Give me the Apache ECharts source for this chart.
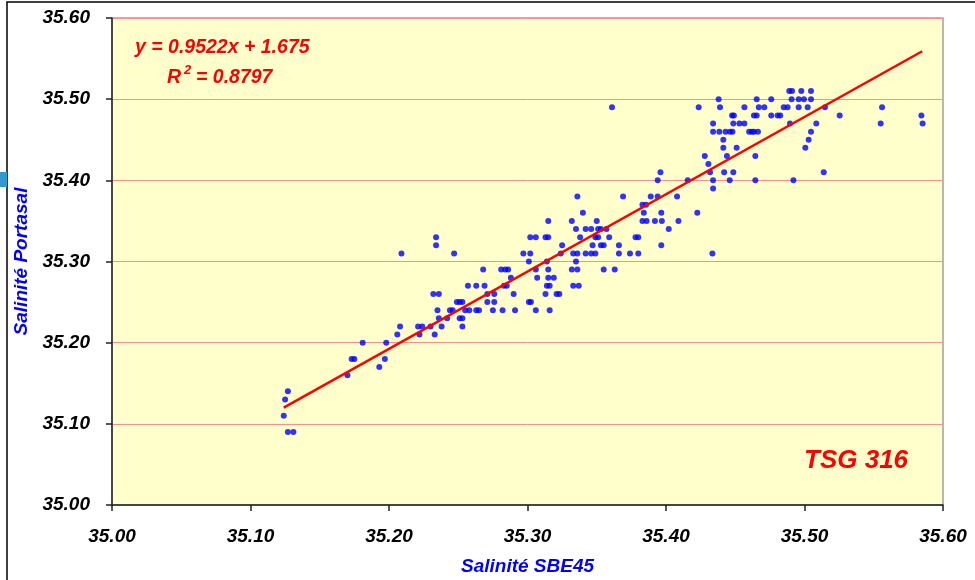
<!DOCTYPE html>
<html>
<head>
<meta charset="utf-8">
<script src="https://cdn.jsdelivr.net/npm/echarts@6/dist/echarts.min.js"></script>
<style>
  html, body { margin: 0; padding: 0; background: #fff; }
  #chart { width: 975px; height: 580px; }
</style>
</head>
<body>
<div id="chart"></div>
<script>
// Portasal readings (y) and the SBE45 readings (x) found at each of them
const portasalLevels = [
  35.09, 35.11, 35.13, 35.14, 35.16, 35.17, 35.18, 35.20, 35.21, 35.22,
  35.23, 35.24, 35.25, 35.26, 35.27, 35.28, 35.29, 35.30, 35.31, 35.32,
  35.33, 35.34, 35.35, 35.36, 35.37, 35.38, 35.39, 35.40, 35.41, 35.42,
  35.43, 35.44, 35.45, 35.46, 35.47, 35.48, 35.49, 35.50, 35.51
];
const sbe45ByLevel = [
  [35.127, 35.131],
  [35.124],
  [35.125],
  [35.127],
  [35.170],
  [35.193],
  [35.173, 35.175, 35.197],
  [35.181, 35.198],
  [35.206, 35.222, 35.233],
  [35.208, 35.221, 35.224, 35.230, 35.238, 35.253],
  [35.236, 35.242, 35.251, 35.253],
  [35.235, 35.244, 35.246, 35.255, 35.258, 35.263, 35.265, 35.275, 35.282, 35.291, 35.306, 35.316],
  [35.249, 35.251, 35.253, 35.271, 35.276, 35.301, 35.3025],
  [35.232, 35.236, 35.271, 35.276, 35.290, 35.313, 35.321, 35.323],
  [35.257, 35.263, 35.269, 35.283, 35.285, 35.314, 35.316, 35.333, 35.337],
  [35.288, 35.307, 35.315, 35.319],
  [35.268, 35.281, 35.284, 35.286, 35.306, 35.315, 35.332, 35.336, 35.355, 35.363],
  [35.301, 35.314, 35.335],
  [35.209, 35.247, 35.297, 35.302, 35.324, 35.333, 35.336, 35.342, 35.346, 35.349, 35.366, 35.374, 35.380, 35.4335],
  [35.234, 35.325, 35.347, 35.353, 35.355, 35.366, 35.3966],
  [35.234, 35.302, 35.306, 35.313, 35.315, 35.338, 35.349, 35.351, 35.359, 35.378, 35.380],
  [35.335, 35.342, 35.346, 35.351, 35.353, 35.357, 35.402],
  [35.315, 35.332, 35.350, 35.383, 35.386, 35.392, 35.397, 35.409],
  [35.340, 35.384, 35.3966, 35.4226],
  [35.383, 35.3856],
  [35.336, 35.369, 35.389, 35.394, 35.408],
  [35.434],
  [35.394, 35.4157, 35.434, 35.446, 35.4645, 35.492],
  [35.396, 35.4318, 35.442, 35.4486, 35.5139],
  [35.4306],
  [35.428, 35.444, 35.4645],
  [35.4414, 35.451, 35.5006],
  [35.4414, 35.503],
  [35.434, 35.4385, 35.443, 35.4462, 35.448, 35.460, 35.462, 35.4635, 35.4664, 35.5047],
  [35.434, 35.4486, 35.453, 35.4566, 35.4895, 35.5085, 35.555, 35.5853],
  [35.4477, 35.449, 35.4635, 35.4655, 35.476, 35.4806, 35.4825, 35.5254, 35.5844],
  [35.361, 35.4236, 35.439, 35.4566, 35.467, 35.471, 35.485, 35.4878, 35.4958, 35.5023, 35.5148, 35.556],
  [35.438, 35.4655, 35.476, 35.4907, 35.4958, 35.4996, 35.5047],
  [35.489, 35.491, 35.4977, 35.5047]
];

// linear trend printed on the chart
const trendSlope = 0.9522;
const trendIntercept = 1.675;
const trendXRange = [35.124, 35.585];

const axisMin = 35.0;
const axisMax = 35.6;
const axisStep = 0.1;

const FONT = '"Liberation Sans", Arial, sans-serif';

var points = [];
portasalLevels.forEach(function (y, i) {
  sbe45ByLevel[i].forEach(function (x) {
    points.push([x, y]);
  });
});
var trendLine = trendXRange.map(function (x) {
  return [x, trendSlope * x + trendIntercept];
});

var labelStyle = {
  color: '#000',
  fontFamily: FONT,
  fontSize: 19,
  fontWeight: 'bold',
  fontStyle: 'italic',
  formatter: function (v) { return v.toFixed(2); }
};
var nameStyle = {
  color: '#0000FF',
  fontFamily: FONT,
  fontSize: 19,
  fontWeight: 'bold',
  fontStyle: 'italic'
};
var redText = {
  fill: '#FF0000',
  fontFamily: FONT,
  fontWeight: 'bold',
  fontStyle: 'italic'
};

var chart = echarts.init(document.getElementById('chart'), null, { renderer: 'canvas' });
chart.setOption({
  animation: false,
  backgroundColor: '#ffffff',
  grid: {
    left: 112, right: 32, top: 18, bottom: 75,
    outerBoundsMode: 'none',
    containLabel: false,
    show: true,
    backgroundColor: '#FFFFCC',
    borderColor: '#a0a0a0',
    borderWidth: 1.5
  },
  xAxis: {
    type: 'value',
    min: axisMin, max: axisMax, interval: axisStep,
    name: 'Salinité SBE45',
    nameLocation: 'middle',
    nameGap: 52,
    nameTextStyle: nameStyle,
    axisLine: { lineStyle: { color: '#222', width: 1.5 } },
    axisTick: { show: true, length: 6, lineStyle: { color: '#222', width: 1.5 } },
    axisLabel: Object.assign({ margin: 22 }, labelStyle),
    splitLine: { show: false }
  },
  yAxis: {
    type: 'value',
    min: axisMin, max: axisMax, interval: axisStep,
    name: 'Salinité Portasal',
    nameLocation: 'middle',
    nameRotate: 90,
    nameGap: 77,
    nameTextStyle: nameStyle,
    axisLine: { show: true, lineStyle: { color: '#222', width: 1.5 } },
    axisTick: { show: true, length: 6, lineStyle: { color: '#222', width: 1.5 } },
    axisLabel: Object.assign({ margin: 22 }, labelStyle),
    splitLine: { show: true, lineStyle: { color: '#FF8C8C', width: 1 } }
  },
  series: [
    {
      name: 'mesures',
      type: 'scatter',
      symbol: 'circle',
      symbolSize: 6,
      itemStyle: { color: '#0000FF' },
      data: points
    },
    {
      name: 'tendance',
      type: 'line',
      symbol: 'none',
      lineStyle: { color: '#FF0000', width: 2.5 },
      data: trendLine
    }
  ],
  graphic: [
    // chart frame and the stray marker on the left edge
    { type: 'rect', shape: { x: 7, y: 2, width: 1200, height: 800 },
      style: { fill: 'none', stroke: '#000', lineWidth: 1.5 }, silent: true },
    { type: 'rect', shape: { x: 0, y: 172, width: 7, height: 15 },
      style: { fill: '#3399CC' }, silent: true },
    // trend equation
    { type: 'text', left: 135, top: 38,
      style: Object.assign({ text: 'y = 0.9522x + 1.675', fontSize: 19.5 }, redText) },
    { type: 'text', left: 167, top: 68,
      style: Object.assign({ text: 'R', fontSize: 19.5 }, redText) },
    { type: 'text', left: 184, top: 64,
      style: Object.assign({ text: '2', fontSize: 13 }, redText) },
    { type: 'text', left: 196, top: 68,
      style: Object.assign({ text: '= 0.8797', fontSize: 19.5 }, redText) },
    // instrument tag
    { type: 'text', left: 804, top: 448,
      style: Object.assign({ text: 'TSG 316', fontSize: 26 }, redText) }
  ]
});
</script>
</body>
</html>
